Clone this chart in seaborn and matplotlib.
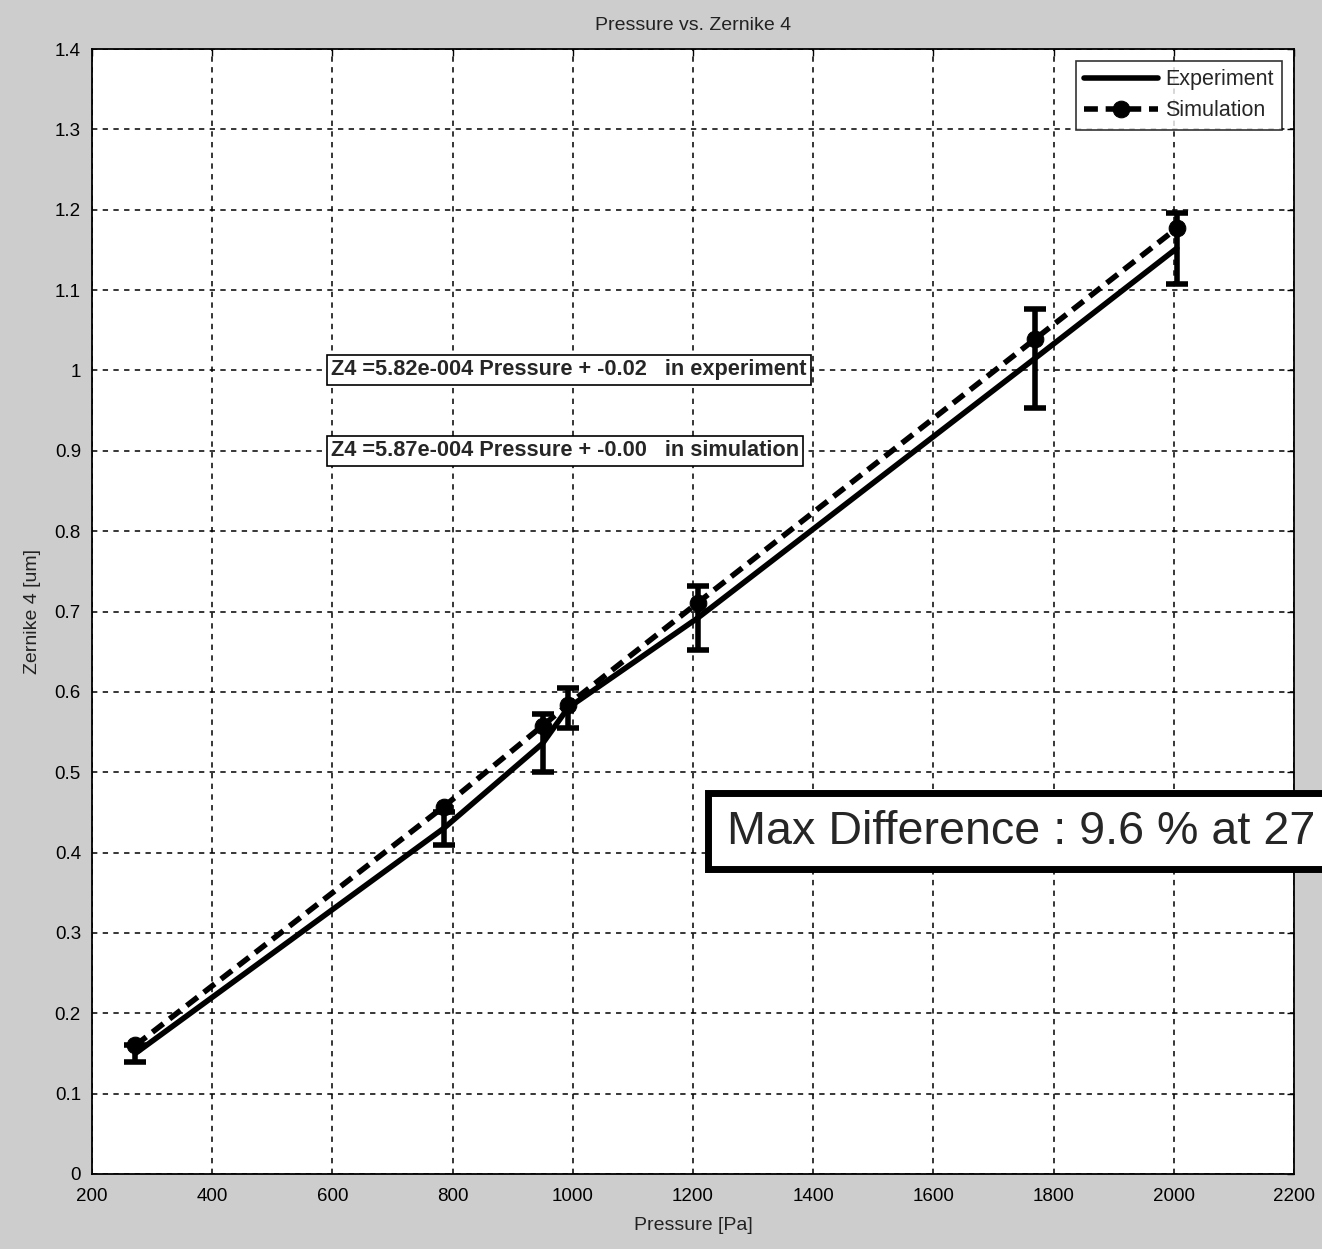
import matplotlib
matplotlib.use("Agg")
import matplotlib.pyplot as plt
import seaborn as sns
import pandas as pd
from matplotlib.patches import Rectangle

pressure = [272, 785, 950, 992, 1208, 1769, 2005]
exp_z4 = [0.150, 0.430, 0.536, 0.580, 0.692, 1.015, 1.152]
exp_err = [0.010, 0.020, 0.036, 0.025, 0.040, 0.062, 0.044]
sim_z4 = [0.160, 0.457, 0.558, 0.584, 0.711, 1.039, 1.177]

x_ticks = [200, 400, 600, 800, 1000, 1200, 1400, 1600, 1800, 2000, 2200]
y_ticks = [0, 0.1, 0.2, 0.3, 0.4, 0.5, 0.6, 0.7, 0.8, 0.9, 1.0, 1.1, 1.2, 1.3, 1.4]
y_tick_labels = ["0", "0.1", "0.2", "0.3", "0.4", "0.5", "0.6", "0.7", "0.8", "0.9",
                 "1", "1.1", "1.2", "1.3", "1.4"]

fit_exp_text = "Z4 =5.82e-004 Pressure + -0.02   in experiment"
fit_sim_text = "Z4 =5.87e-004 Pressure + -0.00   in simulation"
max_diff_text = "Max Difference : 9.6 % at 27"

sns.set_theme(style="white")
plt.rcParams['font.family'] = ['Liberation Sans', 'DejaVu Sans']

df_exp = pd.DataFrame({"Pressure": pressure, "Z4": exp_z4})
df_sim = pd.DataFrame({"Pressure": pressure, "Z4": sim_z4})

fig = plt.figure(figsize=(13.22, 12.49), dpi=100, facecolor="#cdcdcd")
ax = fig.add_axes([92/1322, 1 - 1174/1249, (1294-92)/1322, (1174-49)/1249])
ax.set_facecolor("white")

sns.lineplot(data=df_exp, x="Pressure", y="Z4", ax=ax, color="black", lw=4.0,
             sort=False, label="Experiment", zorder=3)
sns.lineplot(data=df_sim, x="Pressure", y="Z4", ax=ax, color="black", lw=4.0,
             sort=False, marker="o", markersize=12, markeredgecolor="black",
             dashes=False, label="Simulation", zorder=4)
ax.lines[1].set_dashes((2.5, 1.4))
ax.errorbar(pressure, exp_z4, yerr=exp_err, fmt="none", ecolor="black",
            elinewidth=4.0, capsize=8, capthick=4.0, zorder=5)

ax.set_xlim(200, 2200)
ax.set_ylim(0, 1.4)
ax.set_xticks(x_ticks)
ax.set_xticklabels([str(v) for v in x_ticks])
ax.set_yticks(y_ticks)
ax.set_yticklabels(y_tick_labels)
ax.tick_params(axis="both", direction="in", length=5, width=1, labelsize=13.5,
               colors="black", top=True, right=True, pad=8)
ax.tick_params(axis="x", pad=10)
ax.grid(True, color="black", linestyle=(0, (3.5, 3.5)), linewidth=1.1)
for s in ax.spines.values():
    s.set_color("black")
    s.set_linewidth(1.3)

ax.set_title("Pressure vs. Zernike 4", fontsize=14, pad=14, color="#222222")
ax.set_xlabel("Pressure [Pa]", fontsize=14, labelpad=9, color="#222222")
ax.set_ylabel("Zernike 4 [um]", fontsize=14, labelpad=10, color="#222222")

leg = ax.legend(loc="upper right", fontsize=15.5, frameon=True, fancybox=False,
                edgecolor="black", handlelength=3.4, borderpad=0.4,
                labelspacing=0.45, handletextpad=0.35, borderaxespad=0.55)
leg.get_frame().set_linewidth(1.2)

box_kw = dict(boxstyle="square,pad=0.2", facecolor="white", edgecolor="black", lw=1.2)
fig.text(331/1322, 1 - 370/1249, fit_exp_text, fontsize=15.7, fontweight="bold",
         va="center", ha="left", bbox=box_kw, zorder=10)
fig.text(331/1322, 1 - 451/1249, fit_sim_text, fontsize=15.7, fontweight="bold",
         va="center", ha="left", bbox=box_kw, zorder=10)

fig.patches.append(Rectangle((708/1322, 1 - 869/1249), (1340-708)/1322, (869-793)/1249,
                             transform=fig.transFigure, facecolor="white",
                             edgecolor="black", lw=5, zorder=11, clip_on=False))
fig.text(727/1322, 1 - 832/1249, max_diff_text, fontsize=33.6, va="center", ha="left",
         zorder=12)

fig.savefig("out.png", dpi=100, facecolor=fig.get_facecolor())
